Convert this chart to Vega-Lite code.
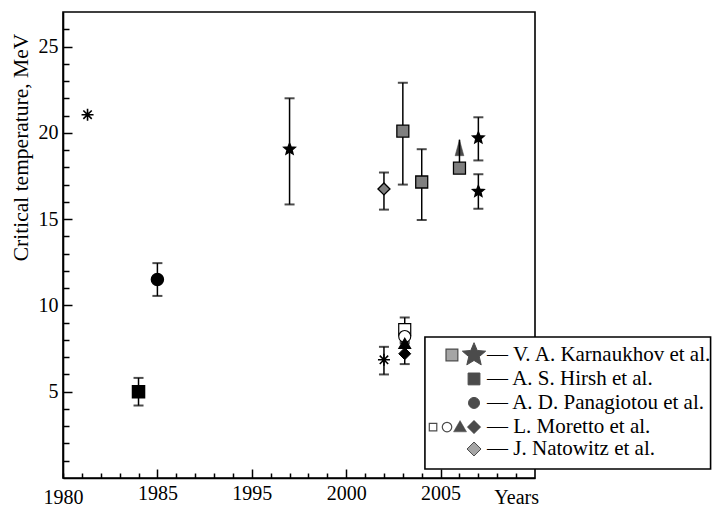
{
  "$schema": "https://vega.github.io/schema/vega-lite/v6.json",
  "width": 472,
  "height": 466,
  "autosize": {"type": "none"},
  "padding": {"left": 63, "top": 12, "right": 178, "bottom": 30},
  "background": "white",
  "config": {
    "view": {"stroke": "black", "strokeWidth": 1.6},
    "font": "Liberation Serif",
    "axis": {
      "grid": false,
      "domainColor": "black",
      "domainWidth": 1.6,
      "tickColor": "black",
      "tickWidth": 1.5,
      "labelColor": "black",
      "labelFont": "Liberation Serif",
      "labelFontSize": 20,
      "titleFont": "Liberation Serif",
      "titleFontWeight": "normal",
      "titleColor": "black"
    }
  },
  "datasets": {
    "measurements": [
      {"series": "Other", "marker": "asterisk", "year": 1981.3, "t": 21.05},
      {"series": "A. S. Hirsh et al.", "marker": "black square", "year": 1984, "t": 5.0, "lo": 4.2, "hi": 5.8},
      {"series": "A. D. Panagiotou et al.", "marker": "black circle", "year": 1985, "t": 11.5, "lo": 10.55, "hi": 12.45},
      {"series": "V. A. Karnaukhov et al.", "marker": "star", "year": 1997, "t": 19.05, "lo": 15.85, "hi": 22.0},
      {"series": "J. Natowitz et al.", "marker": "grey diamond", "year": 2002, "t": 16.75, "lo": 15.55, "hi": 17.7},
      {"series": "Other", "marker": "asterisk", "year": 2002, "t": 6.85, "lo": 6.0, "hi": 7.6},
      {"series": "V. A. Karnaukhov et al.", "marker": "grey square", "year": 2003, "t": 20.1, "lo": 17.0, "hi": 22.9},
      {"series": "L. Moretto et al.", "marker": "open square", "year": 2003.1, "t": 8.6, "lo": 7.9, "hi": 9.3},
      {"series": "L. Moretto et al.", "marker": "open circle", "year": 2003.1, "t": 8.2},
      {"series": "L. Moretto et al.", "marker": "black triangle", "year": 2003.1, "t": 7.8},
      {"series": "L. Moretto et al.", "marker": "black diamond", "year": 2003.1, "t": 7.2, "lo": 6.6, "hi": 7.8},
      {"series": "V. A. Karnaukhov et al.", "marker": "grey square", "year": 2004, "t": 17.15, "lo": 14.95, "hi": 19.05},
      {"series": "V. A. Karnaukhov et al.", "marker": "grey square", "year": 2006, "t": 17.95, "arrow": 19.6},
      {"series": "V. A. Karnaukhov et al.", "marker": "star", "year": 2007, "t": 19.7, "lo": 18.4, "hi": 20.9},
      {"series": "V. A. Karnaukhov et al.", "marker": "star", "year": 2007, "t": 16.6, "lo": 15.6, "hi": 17.6}
    ]
  },
  "data": {"name": "measurements"},
  "layer": [
    {
      "transform": [{"filter": "isValid(datum.lo)"}],
      "mark": {"type": "rule", "color": "black", "strokeWidth": 1.5},
      "encoding": {
        "x": {
          "field": "year",
          "type": "quantitative",
          "scale": {"domain": [1980, 1985, 1995, 2010], "range": [0, 94.4, 188.8, 472], "nice": false, "zero": false},
          "axis": {
            "title": null,
            "values": [1980, 1981, 1982, 1983, 1984, 1985, 1987, 1989, 1991, 1993, 1995, 1996, 1997, 1998, 1999, 2000, 2001, 2002, 2003, 2004, 2005, 2006, 2007, 2008, 2009],
            "tickCount": 100,
            "labelExpr": "datum.value == 2009 ? 'Years' : (indexof([1980, 1985, 1995, 2000, 2005], datum.value) >= 0 ? '' + datum.value : '')",
            "labelFontSize": {"condition": {"test": "indexof([1980, 1985, 1995, 2000, 2005, 2009], datum.value) >= 0", "value": 20}, "value": 0},
            "tickSize": {"condition": {"test": "indexof([1985, 1995, 2000, 2005], datum.value) >= 0", "value": -9}, "value": -5},
            "labelPadding": 14,
            "labelFlush": false,
            "labelOverlap": false,
            "labelAngle": 0
          }
        },
        "y": {
          "field": "lo",
          "type": "quantitative",
          "scale": {"domain": [0, 27], "nice": false, "zero": false},
          "axis": {
            "title": "Critical temperature, MeV",
            "titleFontSize": 21.5,
            "titleAngle": -90,
            "titleX": -42,
            "titleY": 135,
            "titleAlign": "center",
            "titleBaseline": "middle",
            "values": [1, 2, 3, 4, 5, 6, 7, 8, 9, 10, 11, 12, 13, 14, 15, 16, 17, 18, 19, 20, 21, 22, 23, 24, 25, 26],
            "tickCount": 100,
            "labelExpr": "datum.value % 5 === 0 ? '' + datum.value : ''",
            "labelFontSize": {"condition": {"test": "datum.value % 5 === 0", "value": 20}, "value": 0},
            "tickSize": {"condition": {"test": "datum.value % 5 === 0", "value": -9}, "value": -6},
            "labelPadding": 14,
            "labelFlush": false,
            "labelOverlap": false
          }
        },
        "y2": {"field": "hi"}
      }
    },
    {
      "transform": [{"filter": "isValid(datum.lo)"}],
      "mark": {"type": "tick", "orient": "horizontal", "size": 10, "thickness": 2, "color": "black"},
      "encoding": {
        "x": {"field": "year", "type": "quantitative"},
        "y": {"field": "lo", "type": "quantitative"}
      }
    },
    {
      "transform": [{"filter": "isValid(datum.hi)"}],
      "mark": {"type": "tick", "orient": "horizontal", "size": 10, "thickness": 2, "color": "black"},
      "encoding": {
        "x": {"field": "year", "type": "quantitative"},
        "y": {"field": "hi", "type": "quantitative"}
      }
    },
    {
      "transform": [{"filter": "isValid(datum.arrow)"}],
      "mark": {"type": "rule", "color": "black", "strokeWidth": 1.5},
      "encoding": {
        "x": {"field": "year", "type": "quantitative"},
        "y": {"field": "t", "type": "quantitative"},
        "y2": {"field": "arrow"}
      }
    },
    {
      "transform": [{"filter": "isValid(datum.arrow)"}],
      "mark": {"type": "point", "shape": "M0,0L0.55,2L-0.55,2Z", "size": 256, "filled": true, "fill": "black", "stroke": "black", "strokeWidth": 0.5},
      "encoding": {
        "x": {"field": "year", "type": "quantitative"},
        "y": {"field": "arrow", "type": "quantitative"}
      }
    },
    {
      "mark": {"type": "point", "filled": true, "stroke": "black", "opacity": 1},
      "encoding": {
        "x": {"field": "year", "type": "quantitative"},
        "y": {"field": "t", "type": "quantitative"},
        "shape": {
          "field": "marker",
          "type": "nominal",
          "legend": null,
          "scale": {
            "domain": ["asterisk", "black square", "black circle", "star", "grey diamond", "grey square", "open square", "open circle", "black triangle", "black diamond"],
            "range": [
              "M0,-1L0,1M-1,0L1,0M-0.7,-0.7L0.7,0.7M-0.7,0.7L0.7,-0.7",
              "square",
              "circle",
              "M0,-1L0.2645,-0.3641L0.9511,-0.309L0.428,0.1391L0.5878,0.809L0,0.45L-0.5878,0.809L-0.428,0.1391L-0.9511,-0.309L-0.2645,-0.3641Z",
              "diamond",
              "square",
              "square",
              "circle",
              "triangle-up",
              "diamond"
            ]
          }
        },
        "fill": {
          "field": "marker",
          "type": "nominal",
          "legend": null,
          "scale": {
            "domain": ["asterisk", "black square", "black circle", "star", "grey diamond", "grey square", "open square", "open circle", "black triangle", "black diamond"],
            "range": ["black", "black", "black", "black", "#7f7f7f", "#7f7f7f", "white", "white", "black", "black"]
          }
        },
        "size": {
          "field": "marker",
          "type": "ordinal",
          "legend": null,
          "scale": {
            "domain": ["asterisk", "black square", "black circle", "star", "grey diamond", "grey square", "open square", "open circle", "black triangle", "black diamond"],
            "range": [144, 144, 128, 600, 256, 140, 144, 100, 196, 256]
          }
        },
        "strokeWidth": {
          "field": "marker",
          "type": "ordinal",
          "legend": null,
          "scale": {
            "domain": ["asterisk", "black square", "black circle", "star", "grey diamond", "grey square", "open square", "open circle", "black triangle", "black diamond"],
            "range": [1.6, 1, 1, 1, 1, 1.2, 1.3, 1.3, 0.5, 0.5]
          }
        }
      }
    },
    {
      "data": {"values": [{}]},
      "mark": {"type": "rect", "fill": "white", "stroke": "black", "strokeWidth": 1.6},
      "encoding": {
        "x": {"datum": 2004.17, "type": "quantitative"},
        "x2": {"datum": 2019.3},
        "y": {"datum": 8.17, "type": "quantitative"},
        "y2": {"datum": 0.52}
      }
    },
    {
      "data": {"values": [{}]},
      "mark": {"type": "point", "shape": "square", "size": 140, "filled": true, "fill": "#7f7f7f", "stroke": "black", "strokeWidth": 1.2},
      "encoding": {"x": {"datum": 2005.6, "type": "quantitative"}, "y": {"datum": 7.13, "type": "quantitative"}}
    },
    {
      "data": {"values": [{}]},
      "mark": {"type": "point", "shape": "M0,-1L0.2645,-0.3641L0.9511,-0.309L0.428,0.1391L0.5878,0.809L0,0.45L-0.5878,0.809L-0.428,0.1391L-0.9511,-0.309L-0.2645,-0.3641Z", "size": 600, "filled": true, "fill": "black", "stroke": "black", "strokeWidth": 1},
      "encoding": {"x": {"datum": 2006.77, "type": "quantitative"}, "y": {"datum": 7.13, "type": "quantitative"}}
    },
    {
      "data": {"values": [{}]},
      "mark": {"type": "point", "shape": "square", "size": 140, "filled": true, "fill": "black", "stroke": "black", "strokeWidth": 1},
      "encoding": {"x": {"datum": 2006.77, "type": "quantitative"}, "y": {"datum": 5.74, "type": "quantitative"}}
    },
    {
      "data": {"values": [{}]},
      "mark": {"type": "point", "shape": "circle", "size": 121, "filled": true, "fill": "black", "stroke": "black", "strokeWidth": 1},
      "encoding": {"x": {"datum": 2006.77, "type": "quantitative"}, "y": {"datum": 4.35, "type": "quantitative"}}
    },
    {
      "data": {"values": [{}]},
      "mark": {"type": "point", "shape": "square", "size": 56, "filled": true, "fill": "white", "stroke": "black", "strokeWidth": 1.2},
      "encoding": {"x": {"datum": 2004.6, "type": "quantitative"}, "y": {"datum": 2.95, "type": "quantitative"}}
    },
    {
      "data": {"values": [{}]},
      "mark": {"type": "point", "shape": "circle", "size": 90, "filled": true, "fill": "white", "stroke": "black", "strokeWidth": 1.2},
      "encoding": {"x": {"datum": 2005.34, "type": "quantitative"}, "y": {"datum": 2.95, "type": "quantitative"}}
    },
    {
      "data": {"values": [{}]},
      "mark": {"type": "point", "shape": "triangle-up", "size": 169, "filled": true, "fill": "black", "stroke": "black", "strokeWidth": 0.5},
      "encoding": {"x": {"datum": 2006.03, "type": "quantitative"}, "y": {"datum": 3.0, "type": "quantitative"}}
    },
    {
      "data": {"values": [{}]},
      "mark": {"type": "point", "shape": "diamond", "size": 182, "filled": true, "fill": "black", "stroke": "black", "strokeWidth": 0.5},
      "encoding": {"x": {"datum": 2006.77, "type": "quantitative"}, "y": {"datum": 2.95, "type": "quantitative"}}
    },
    {
      "data": {"values": [{}]},
      "mark": {"type": "point", "shape": "diamond", "size": 196, "filled": true, "fill": "#7f7f7f", "stroke": "black", "strokeWidth": 1},
      "encoding": {"x": {"datum": 2006.77, "type": "quantitative"}, "y": {"datum": 1.68, "type": "quantitative"}}
    },
    {
      "data": {
        "values": [
          {"entry": "— V. A. Karnaukhov et al.", "row": 7.13},
          {"entry": "— A. S. Hirsh et al.", "row": 5.74},
          {"entry": "— A. D. Panagiotou et al.", "row": 4.35},
          {"entry": "— L. Moretto et al.", "row": 2.95},
          {"entry": "— J. Natowitz et al.", "row": 1.68}
        ]
      },
      "mark": {"type": "text", "align": "left", "baseline": "middle", "font": "Liberation Serif", "fontSize": 21, "color": "black"},
      "encoding": {
        "x": {"datum": 2007.46, "type": "quantitative"},
        "y": {"field": "row", "type": "quantitative"},
        "text": {"field": "entry"}
      }
    }
  ]
}
